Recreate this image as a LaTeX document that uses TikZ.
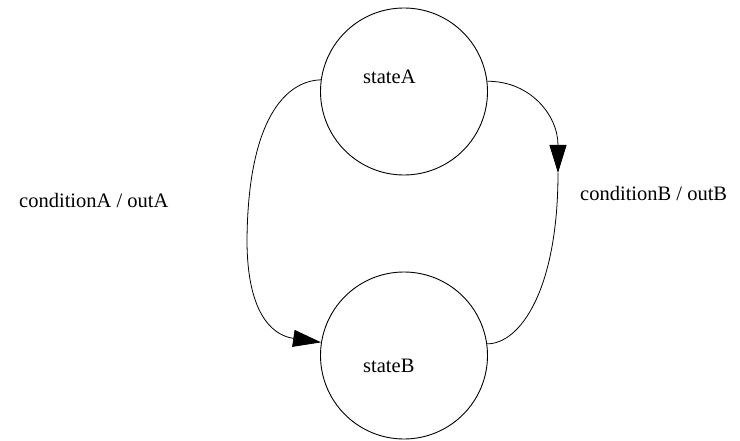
\documentclass[tikz,border=0pt]{standalone}
\usepackage{fontspec}
\setmainfont{Liberation Serif}
\usetikzlibrary{arrows.meta}
\begin{document}
\begin{tikzpicture}[x=1pt, y=-1pt,
  state/.style={circle, draw, line width=0.9pt, minimum size=167pt, inner sep=0pt},
  txt/.style={anchor=base west, inner sep=0pt, font=\fontsize{20.5}{24}\selectfont},
  trans/.style={line width=0.8pt},
  tip/.style={-{Triangle[length=28pt,width=17pt]}}]
\useasboundingbox (0,0) rectangle (740,441);
\node[state] (sA) at (404,91.5){};
\node[txt] (tA) at (363,84){stateA};
\node[state] (sB) at (404,355.5){};
\node[txt] (tB) at (363,372){stateB};
\node[txt] (cA) at (19,208){conditionA / outA};
\node[txt] (cB) at (580,201){conditionB / outB};
\coordinate (tipR) at (558,173);
\draw[trans, tip](sA.172.8) .. controls (285,81) and (248,120) .. (247,240) .. controls (247,310) and (270,335) .. (sB.171.4);
\draw[trans, tip](sA.7.2) .. controls (530,81) and (558,115) .. (tipR);
\draw[trans](tipR) .. controls (558,290) and (520,344) .. (sB.8.6);
\end{tikzpicture}
\end{document}
